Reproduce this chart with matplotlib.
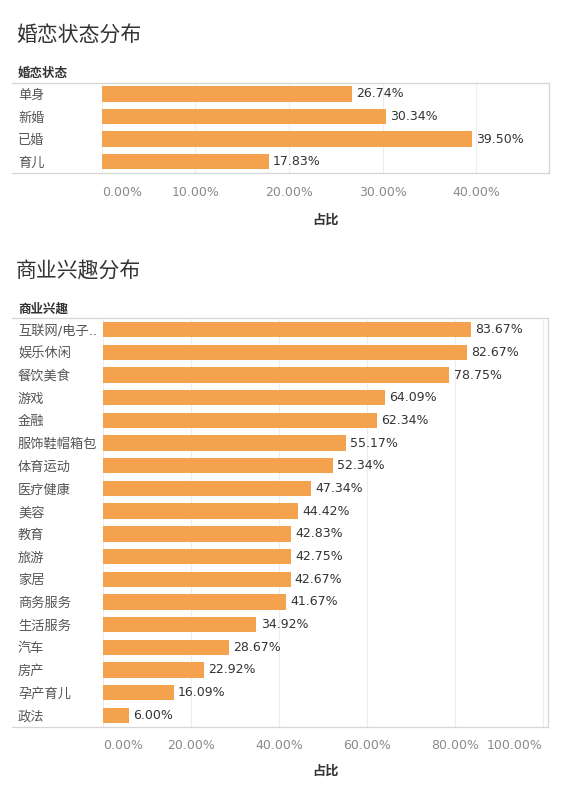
import matplotlib
matplotlib.use("Agg")
import matplotlib.pyplot as plt
from matplotlib.lines import Line2D
from matplotlib.ticker import PercentFormatter

plt.rcParams['font.family'] = ['DejaVu Sans', 'Noto Sans CJK SC']

# ---- data ----
marital_title = "婚恋状态分布"
marital_header = "婚恋状态"
marital_cats = ['单身', '新婚', '已婚', '育儿']
marital_vals = [26.74, 30.34, 39.50, 17.83]
marital_ticks = [0, 10, 20, 30, 40]

interest_title = "商业兴趣分布"
interest_header = "商业兴趣"
interest_cats = ['互联网/电子..', '娱乐休闲', '餐饮美食', '游戏', '金融', '服饰鞋帽箱包',
                 '体育运动', '医疗健康', '美容', '教育', '旅游', '家居', '商务服务',
                 '生活服务', '汽车', '房产', '孕产育儿', '政法']
interest_vals = [83.67, 82.67, 78.75, 64.09, 62.34, 55.17, 52.34, 47.34, 44.42,
                 42.83, 42.75, 42.67, 41.67, 34.92, 28.67, 22.92, 16.09, 6.00]
interest_ticks = [0, 20, 40, 60, 80, 100]

xlabel_text = "占比"

W, H = 564, 800
BAR = '#F5A24F'
GRID = '#EDEDED'
FRAME = '#D6D6D6'

fig = plt.figure(figsize=(W / 100, H / 100), dpi=100)


def panel(title, header, cats, vals, ticks, xmax, left_px, right_px, top_px, bot_px,
          title_y, header_y, tick_pad, xlabel_y):
    ax = fig.add_axes([left_px / W, 1 - bot_px / H, (right_px - left_px) / W,
                       (bot_px - top_px) / H])
    n = len(cats)
    ys = list(range(n))
    bars = ax.barh(ys, vals, height=0.68, color=BAR, edgecolor='none', zorder=2)
    ax.bar_label(bars, labels=[f"{v:.2f}%" for v in vals], padding=3,
                 fontsize=9, color='#333333')
    ax.set_xlim(0, xmax)
    ax.set_ylim(n - 0.5, -0.5)
    ax.set_yticks(ys)
    ax.set_yticklabels(cats, fontsize=9.5, color='#555555', ha='left')
    ax.tick_params(axis='y', length=0, pad=(left_px - 18) * 0.72)
    ax.set_xticks(ticks)
    ax.xaxis.set_major_formatter(PercentFormatter(100, decimals=2))
    ax.tick_params(axis='x', length=0, pad=tick_pad, labelsize=9, labelcolor='#8A8A8A')
    mt = ax.xaxis.get_major_ticks()
    mt[0].label1.set_horizontalalignment('left')
    if ticks[-1] / xmax > 0.97:
        mt[-1].label1.set_horizontalalignment('right')
    ax.grid(axis='x', color=GRID, lw=0.8, zorder=0)
    ax.set_axisbelow(True)
    for s in ['top', 'bottom', 'left']:
        ax.spines[s].set_visible(False)
    ax.spines['right'].set_color(FRAME)
    ax.spines['right'].set_linewidth(0.9)
    ax.set_xlabel(xlabel_text, fontsize=9.5, color='#333333', fontweight='bold')
    ax.xaxis.set_label_coords(0.5, -(xlabel_y - bot_px) / (bot_px - top_px))
    ax.xaxis.label.set_va('center')
    for yy in (top_px, bot_px):
        fig.add_artist(Line2D([12 / W, right_px / W], [1 - yy / H, 1 - yy / H],
                              color=FRAME, lw=0.9))
    fig.text(16 / W, 1 - title_y / H, title, fontsize=15, color='#333333',
             va='center', ha='left')
    fig.text(18 / W, 1 - header_y / H, header, fontsize=9, color='#333333',
             fontweight='bold', va='center', ha='left')
    return ax


panel(marital_title, marital_header, marital_cats, marital_vals, marital_ticks,
      47.75, 101.7, 549, 82.7, 173, 36, 73, 9.5, 220)
panel(interest_title, interest_header, interest_cats, interest_vals, interest_ticks,
      101.2, 102.7, 548.3, 318.3, 726.7, 271.5, 309, 8.5, 771)

fig.savefig('out.png', dpi=100, facecolor='white')
